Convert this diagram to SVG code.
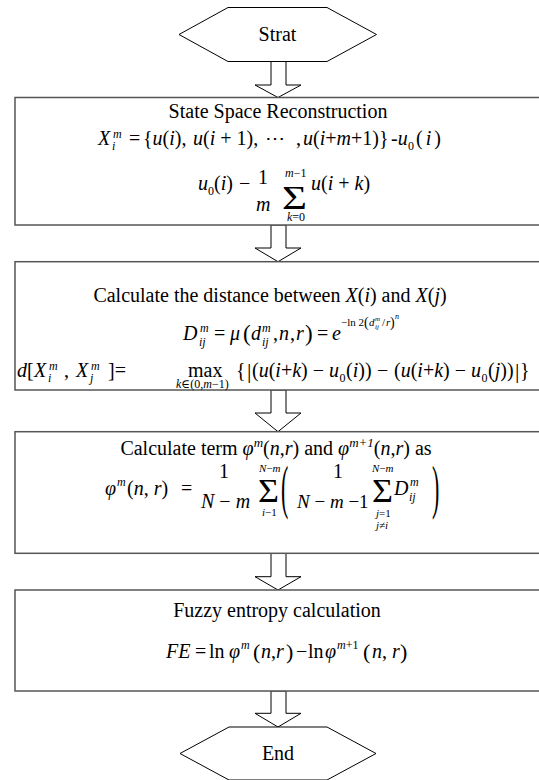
<svg xmlns="http://www.w3.org/2000/svg" width="539" height="780" viewBox="0 0 539 780">
<style>
.f{font-family:"Liberation Serif","Times New Roman","DejaVu Serif",serif;font-size:20px;fill:#000}
.i{font-style:italic}
.s{font-size:12px}
.t{font-size:11px}
.sig{font-size:34px}
.box{fill:#fff;stroke:#555;stroke-width:1.5}
.hex{fill:#fff;stroke:#000;stroke-width:1}
.arr{fill:#fff;stroke:#000;stroke-width:1}
</style>
<rect width="539" height="780" fill="#fff"/>
<g id="connectors">
<polygon class="arr" points="271,61.5 286,61.5 286,85 301,85 278,97.5 255,85 271,85"/>
<polygon class="arr" points="271,225 286,225 286,248 301,248 278,261.7 255,248 271,248"/>
<polygon class="arr" points="271,390 286,390 286,413 301,413 278,431.7 255,413 271,413"/>
<polygon class="arr" points="271,553.3 286,553.3 286,576.7 301,576.7 278,590 255,576.7 271,576.7"/>
<polygon class="arr" points="271,691 286,691 286,713.3 301,713.3 278,727 255,713.3 271,713.3"/>
</g>
<g id="node-start">
<polygon class="hex" points="228,7.5 327,7.5 376.5,34.5 327,61.5 228,61.5 179,34.5"/>
<text class="f" x="277.5" y="41" text-anchor="middle">Strat</text>
</g>
<g id="node-reconstruction">
<rect class="box" x="15" y="97.5" width="545" height="127.5"/>
<text class="f" x="278" y="118" text-anchor="middle">State Space Reconstruction</text>
<text class="f"><tspan class="i" x="98" y="145">X</tspan><tspan class="i s" x="113" y="138">m</tspan><tspan class="i s" x="112" y="150">i</tspan><tspan x="129" y="145">=</tspan><tspan x="143" y="145">{<tspan class="i">u</tspan>(<tspan class="i">i</tspan>),</tspan><tspan x="193" y="145"><tspan class="i">u</tspan>(<tspan class="i">i</tspan> + 1),</tspan><tspan x="265" y="145">⋯</tspan><tspan x="296" y="145">,</tspan><tspan x="303" y="145"><tspan class="i">u</tspan>(<tspan class="i">i</tspan>+<tspan class="i">m</tspan>+1)}</tspan><tspan x="391" y="145">-<tspan class="i">u</tspan></tspan><tspan class="s" x="408" y="150">0</tspan><tspan x="416" y="145" letter-spacing="3">(<tspan class="i">i</tspan>)</tspan></text>
<text class="f"><tspan class="i" x="198" y="190">u</tspan><tspan class="s" x="208" y="195">0</tspan><tspan x="214" y="190">(<tspan class="i">i</tspan>)</tspan><tspan x="239" y="190">−</tspan><tspan x="258" y="184">1</tspan><tspan class="i" x="256" y="211">m</tspan><tspan class="s" x="285" y="177"><tspan class="i">m</tspan>−1</tspan><tspan class="s" x="287" y="221"><tspan class="i">k</tspan>=0</tspan><tspan x="311" y="190"><tspan class="i">u</tspan>(<tspan class="i">i</tspan> + <tspan class="i">k</tspan>)</tspan></text>
<text class="f sig" x="282" y="209" textLength="25" lengthAdjust="spacingAndGlyphs">Σ</text>
</g>
<g id="node-distance">
<rect class="box" x="15" y="261.7" width="545" height="128.3"/>
<text class="f" x="270" y="302" text-anchor="middle">Calculate the distance between <tspan class="i">X</tspan>(<tspan class="i">i</tspan>) and <tspan class="i">X</tspan>(<tspan class="i">j</tspan>)</text>
<text class="f"><tspan class="i" x="183" y="340">D</tspan><tspan class="i s" x="200" y="332">m</tspan><tspan class="i s" x="199" y="346">ij</tspan><tspan x="214" y="340">=</tspan><tspan class="i" x="230" y="340">μ</tspan><tspan x="243" y="341" font-size="23">(</tspan><tspan class="i" x="251" y="340">d</tspan><tspan class="i s" x="262" y="332">m</tspan><tspan class="i s" x="262" y="346">ij</tspan><tspan x="273" y="340" letter-spacing="1">,<tspan class="i">n</tspan>,<tspan class="i">r</tspan></tspan><tspan x="305" y="341" font-size="23">)</tspan><tspan x="317" y="340">=</tspan><tspan class="i" x="332" y="340">e</tspan><tspan class="t" x="341" y="326">−ln 2</tspan><tspan x="364" y="327" font-size="14">(</tspan><tspan class="i t" x="369" y="326">d</tspan><tspan class="i" x="375" y="321" font-size="7">m</tspan><tspan class="i" x="375" y="329" font-size="7">ij</tspan><tspan class="t" x="382" y="326">/</tspan><tspan class="i t" x="386" y="326">r</tspan><tspan x="390" y="327" font-size="14">)</tspan><tspan class="i" x="395" y="319" font-size="8">n</tspan></text>
<text class="f"><tspan class="i" x="17" y="377">d</tspan><tspan x="27" y="377">[</tspan><tspan class="i" x="34" y="377">X</tspan><tspan class="i s" x="49" y="370">m</tspan><tspan class="i s" x="48" y="382">i</tspan><tspan x="64" y="377">,</tspan><tspan class="i" x="76" y="377">X</tspan><tspan class="i s" x="91" y="370">m</tspan><tspan class="i s" x="90" y="382">j</tspan><tspan x="108" y="377">]=</tspan><tspan x="188" y="377">max</tspan><tspan class="s" x="176" y="388"><tspan class="i">k</tspan>∈(0,<tspan class="i">m</tspan>−1)</tspan><tspan x="236" y="377">{</tspan><tspan x="247" y="378" font-size="22">|</tspan><tspan x="252" y="377">(<tspan class="i">u</tspan>(<tspan class="i">i</tspan>+<tspan class="i">k</tspan>) − <tspan class="i">u</tspan></tspan><tspan class="s" x="339.5" y="382">0</tspan><tspan x="346" y="377">(<tspan class="i">i</tspan>))</tspan><tspan x="377" y="377">−</tspan><tspan x="394" y="377">(<tspan class="i">u</tspan>(<tspan class="i">i</tspan>+<tspan class="i">k</tspan>) − <tspan class="i">u</tspan></tspan><tspan class="s" x="481.5" y="382">0</tspan><tspan x="488" y="377">(<tspan class="i">j</tspan>))</tspan><tspan x="515" y="378" font-size="22">|</tspan><tspan x="520" y="377">}</tspan></text>
</g>
<g id="node-term">
<rect class="box" x="15" y="431.7" width="545" height="121.6"/>
<text class="f" x="276" y="455" text-anchor="middle">Calculate term <tspan class="i">φ</tspan><tspan class="i" font-size="13" dy="-8">m</tspan><tspan dy="8">(</tspan><tspan class="i">n</tspan>,<tspan class="i">r</tspan>) and <tspan class="i">φ</tspan><tspan class="i" font-size="13" dy="-8">m+1</tspan><tspan dy="8">(</tspan><tspan class="i">n</tspan>,<tspan class="i">r</tspan>) as</text>
<text class="f"><tspan class="i" x="105" y="495">φ</tspan><tspan class="i s" x="117" y="486">m</tspan><tspan x="127" y="495">(<tspan class="i">n</tspan>, <tspan class="i">r</tspan>)</tspan><tspan x="181" y="495">=</tspan><tspan x="219" y="478">1</tspan><tspan x="201" y="508"><tspan class="i">N</tspan> − <tspan class="i">m</tspan></tspan><tspan class="t" x="259" y="472"><tspan class="i">N</tspan>−<tspan class="i">m</tspan></tspan><tspan class="t" x="262" y="516"><tspan class="i">i</tspan>−1</tspan><tspan x="333" y="478">1</tspan><tspan x="297" y="508" font-size="19"><tspan class="i">N</tspan> − <tspan class="i">m</tspan> −1</tspan><tspan class="t" x="372" y="472"><tspan class="i">N</tspan>−<tspan class="i">m</tspan></tspan><tspan class="t" x="376" y="517"><tspan class="i">j</tspan>=1</tspan><tspan class="t" x="376" y="529"><tspan class="i">j</tspan>≠<tspan class="i">i</tspan></tspan><tspan class="i" x="394" y="495">D</tspan><tspan class="i s" x="410" y="486">m</tspan><tspan class="i s" x="409" y="501">ij</tspan></text>
<text class="f sig" x="258" y="502" textLength="21" lengthAdjust="spacingAndGlyphs">Σ</text>
<text class="f sig" x="372" y="502" textLength="21" lengthAdjust="spacingAndGlyphs">Σ</text>
<text class="f" transform="translate(281,507) scale(1.1,3)">(</text>
<text class="f" transform="translate(432,507) scale(1.1,3)">)</text>
</g>
<g id="node-fuzzy-entropy">
<rect class="box" x="15" y="590" width="545" height="101"/>
<text class="f" x="277" y="617" text-anchor="middle">Fuzzy entropy calculation</text>
<text class="f"><tspan class="i" x="166" y="658">FE</tspan><tspan x="195" y="658">=</tspan><tspan x="209" y="658">ln</tspan><tspan class="i" x="229" y="658">φ</tspan><tspan class="i s" x="241" y="649">m</tspan><tspan x="253" y="659" font-size="22">(</tspan><tspan x="261" y="658"><tspan class="i">n</tspan>,<tspan class="i">r</tspan></tspan><tspan x="286" y="659" font-size="22">)</tspan><tspan x="296" y="658">−</tspan><tspan x="308" y="658">ln</tspan><tspan class="i" x="325" y="658">φ</tspan><tspan class="s" x="337" y="649"><tspan class="i">m</tspan>+1</tspan><tspan x="363" y="659" font-size="22">(</tspan><tspan x="372" y="658"><tspan class="i">n</tspan>, <tspan class="i">r</tspan></tspan><tspan x="400" y="659" font-size="22">)</tspan></text>
</g>
<g id="node-end">
<polygon class="hex" points="229,727 327,727 376,753.5 327,780 229,780 180,753.5"/>
<text class="f" x="278" y="760" text-anchor="middle">End</text>
</g>
</svg>
